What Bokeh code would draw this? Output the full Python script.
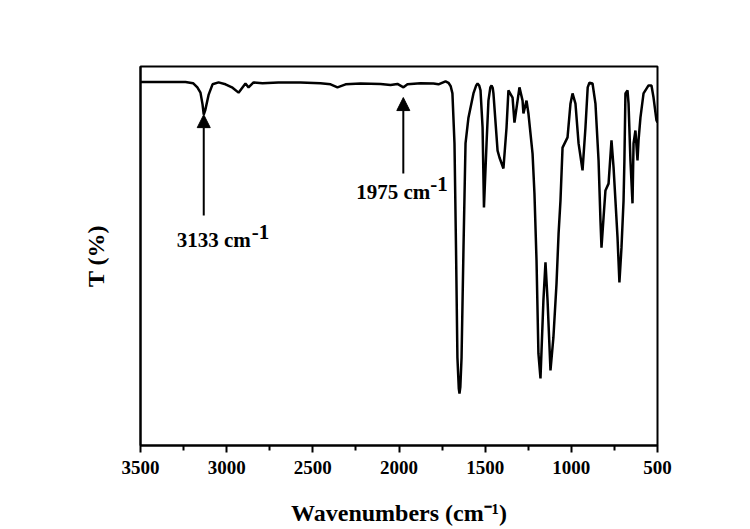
from bokeh.plotting import figure
from bokeh.models import Range1d, FixedTicker, Arrow, NormalHead
from bokeh.core.properties import value
from bokeh.embed import file_html
from bokeh.resources import INLINE

# FTIR spectrum (wavenumber in cm-1, transmittance arbitrary %)
wavenumber = [3500, 3384, 3239, 3195, 3170, 3152, 3140, 3133, 3124, 3105, 3082, 3047, 3007,
              2966, 2931, 2891, 2873, 2844, 2792, 2700, 2572, 2456, 2397, 2357, 2310, 2223,
              2107, 2049, 2009, 1974, 1951, 1875, 1800, 1771, 1730, 1713, 1700, 1690, 1678,
              1669, 1661, 1653, 1649, 1644, 1637, 1626, 1614, 1597, 1568, 1552, 1544, 1535,
              1527, 1515, 1507, 1492, 1481, 1470, 1463, 1456, 1452, 1428, 1417, 1394, 1376,
              1365, 1341, 1330, 1312, 1301, 1283, 1278, 1260, 1249, 1225, 1214, 1202, 1191,
              1179, 1162, 1150, 1138, 1121, 1104, 1086, 1074, 1063, 1051, 1022, 1005, 993,
              976, 958, 935, 918, 905, 895, 877, 860, 842, 831, 825, 813, 802, 784, 767,
              755, 744, 732, 721, 709, 697, 692, 686, 674, 668, 657, 645, 639, 628, 616,
              610, 599, 581, 552, 535, 523, 506, 500]
transmittance = [95.9, 95.9, 95.9, 95.6, 94.5, 93.1, 90.0, 87.3, 88.5, 92.5, 95.3, 95.8, 95.3,
                 94.4, 93.1, 95.5, 94.5, 95.8, 95.6, 95.8, 95.8, 95.6, 95.3, 94.5, 95.3, 95.5,
                 95.4, 95.1, 95.4, 94.5, 95.3, 95.6, 95.5, 95.3, 96.1, 95.7, 94.8, 92.9, 79.7,
                 51.5, 23.2, 15.0, 13.7, 15.5, 23.2, 51.5, 79.7, 86.5, 92.9, 95.0, 95.5, 95.0,
                 93.7, 83.9, 62.8, 79.7, 91.0, 94.5, 95.0, 94.3, 92.9, 77.8, 76.0, 73.1, 83.9,
                 93.7, 91.8, 85.2, 91.0, 94.5, 91.0, 87.6, 91.0, 87.6, 77.0, 66.5, 48.8, 24.3,
                 17.7, 38.3, 48.3, 38.3, 19.8, 28.5, 42.7, 55.9, 64.6, 78.6, 81.3, 90.2, 92.9,
                 90.2, 79.7, 72.6, 83.9, 94.5, 95.7, 95.5, 90.2, 75.2, 59.4, 52.2, 60.2, 67.3,
                 69.1, 80.5, 73.4, 64.6, 54.9, 43.0, 52.2, 64.6, 75.2, 92.9, 93.7, 90.2, 75.2,
                 63.9, 79.7, 83.1, 75.2, 80.5, 86.5, 92.9, 95.0, 95.0, 91.8, 85.8, 85.2]

# annotated peaks
peak_wn = [3133, 1975]
arrow_tip = [87.3, 91.8]
arrow_tail = [60.7, 71.8]
peak_text = ["3133 cm", "1975 cm"]
peak_sup = ["-1", "-1"]

x_ticks = [3500, 3000, 2500, 2000, 1500, 1000, 500]
x_minor = [3250, 2750, 2250, 1750, 1250, 750]

SERIF = "Liberation Serif"

p = figure(width=740, height=529, output_backend="svg", toolbar_location=None,
           x_range=Range1d(3500, 500), y_range=Range1d(0, 100),
           min_border_left=140, min_border_right=83, min_border_top=66,
           min_border_bottom=84)
p.background_fill_color = "white"
p.border_fill_color = "white"
p.outline_line_color = "black"
p.outline_line_width = 2
p.xgrid.visible = False
p.ygrid.visible = False

p.line(wavenumber, transmittance, line_color="black", line_width=2.5)

for xw, tip, tail in zip(peak_wn, arrow_tip, arrow_tail):
    p.add_layout(Arrow(end=NormalHead(size=13, fill_color="black", line_color="black"),
                       x_start=xw, y_start=tail, x_end=xw, y_end=tip,
                       line_color="black", line_width=2))

p.text(x=peak_wn, y=arrow_tail, text=peak_text, x_offset=[10, -10], y_offset=[13, 7],
       text_align="center", text_baseline="top", text_font=value(SERIF),
       text_font_style="bold", text_font_size="21px", text_color="black")
p.text(x=peak_wn, y=arrow_tail, text=peak_sup, x_offset=[48, 27], y_offset=[10, 4],
       text_align="left", text_baseline="top", text_font=value(SERIF),
       text_font_style="bold", text_font_size="21px", text_color="black")

xa = p.xaxis[0]
xa.ticker = FixedTicker(ticks=x_ticks, minor_ticks=x_minor)
xa.axis_line_width = 2
xa.major_tick_line_width = 2
xa.minor_tick_line_width = 2
xa.major_tick_out = 7
xa.major_tick_in = 0
xa.minor_tick_out = 5
xa.minor_tick_in = 0
xa.major_label_text_font = SERIF
xa.major_label_text_font_style = "bold"
xa.major_label_text_font_size = "19px"
xa.major_label_text_color = "black"
xa.major_label_standoff = 8
xa.axis_label = "Wavenumbers (cm⁻¹)"
xa.axis_label_text_font = SERIF
xa.axis_label_text_font_style = "bold"
xa.axis_label_text_font_size = "24px"
xa.axis_label_text_color = "black"
xa.axis_label_standoff = 23

ya = p.yaxis[0]
ya.ticker = FixedTicker(ticks=[])
ya.axis_line_width = 2
ya.major_tick_line_color = None
ya.minor_tick_line_color = None
ya.major_label_text_font_size = "0px"
ya.axis_label = "T (%)"
ya.axis_label_text_font = SERIF
ya.axis_label_text_font_style = "bold"
ya.axis_label_text_font_size = "24px"
ya.axis_label_text_color = "black"
ya.axis_label_standoff = 32

open("out.html", "w").write(file_html(p, INLINE))
